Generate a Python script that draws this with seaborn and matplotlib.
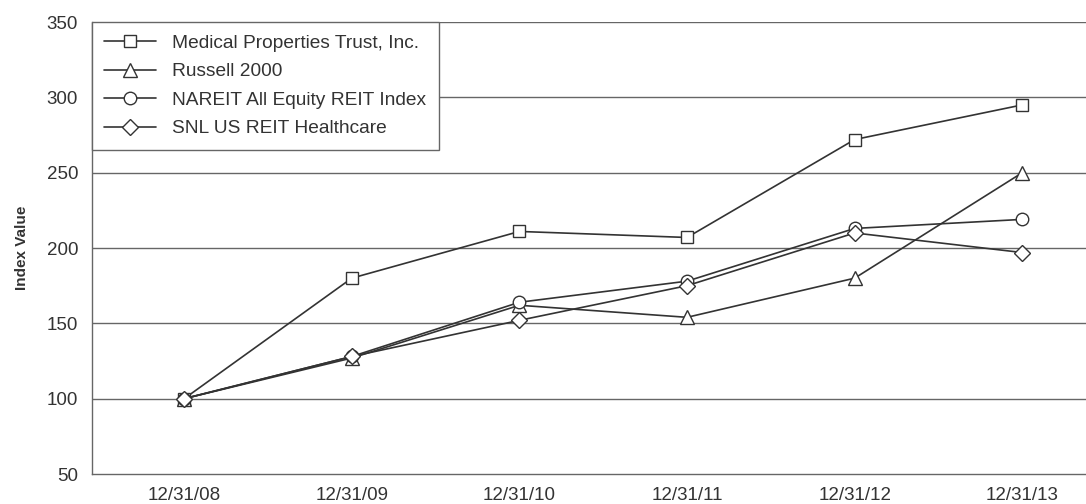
import numpy as np
import pandas as pd
import matplotlib
matplotlib.use("Agg")
import matplotlib.pyplot as plt
import seaborn as sns

# -------------------------------------------------------
# Data
# -------------------------------------------------------

dates = ["12/31/08", "12/31/09", "12/31/10", "12/31/11", "12/31/12", "12/31/13"]

mpt = [100, 180, 211, 207, 272, 295]
russell = [100, 127, 162, 154, 180, 250]
nareit = [100, 128, 164, 178, 213, 219]
snl = [100, 128, 152, 175, 210, 197]

series_names = [
    "Medical Properties Trust, Inc.",
    "Russell 2000",
    "NAREIT All Equity REIT Index",
    "SNL US REIT Healthcare",
]
series_values = [mpt, russell, nareit, snl]
series_markers = ["s", "^", "o", "D"]
marker_sizes = [9, 9.5, 9, 8]

y_ticks = [50, 100, 150, 200, 250, 300, 350]

# -------------------------------------------------------
# Long-form table
# -------------------------------------------------------

rows = []
for name, values in zip(series_names, series_values):
    for i, (d, v) in enumerate(zip(dates, values)):
        rows.append({"Series": name, "pos": i, "Date": d, "Value": v})
data = pd.DataFrame(rows)

# -------------------------------------------------------
# Plot
# -------------------------------------------------------

sns.set_style("white")
plt.rcParams["font.family"] = ["Liberation Sans", "DejaVu Sans"]

ink = "#333333"
grid_color = "#666666"

fig = plt.figure(figsize=(10.86, 5.04), dpi=100)
ax = fig.add_axes([0.0847, 0.0595, 0.9153, 0.8968])

for name, marker, ms in zip(series_names, series_markers, marker_sizes):
    subset = data[data["Series"] == name]
    sns.lineplot(
        data=subset,
        x="pos",
        y="Value",
        ax=ax,
        color=ink,
        linewidth=1.2,
        marker=marker,
        markersize=ms,
        markerfacecolor="white",
        markeredgecolor=ink,
        markeredgewidth=1.0,
        label=name,
        zorder=3,
    )

ax.set_xlim(-0.55, 5.38)
ax.set_ylim(50, 350)
ax.set_xticks(range(len(dates)))
ax.set_xticklabels(dates)
ax.set_yticks(y_ticks)

for y in y_ticks[1:]:
    ax.axhline(y, color=grid_color, linewidth=1.0, zorder=1)

ax.set_xlabel("")
ax.set_ylabel("Index Value", fontsize=11, fontweight="bold", color=ink, labelpad=13)

ax.tick_params(axis="x", direction="out", length=6, width=1, colors=grid_color,
               labelcolor=ink, labelsize=13.5, pad=3)
ax.tick_params(axis="y", length=0, labelcolor=ink, labelsize=13.5, pad=10)

for side in ["top", "right"]:
    ax.spines[side].set_visible(False)
for side in ["left", "bottom"]:
    ax.spines[side].set_color(grid_color)
    ax.spines[side].set_linewidth(1.0)

leg = ax.legend(
    loc="upper left",
    bbox_to_anchor=(0, 1),
    borderaxespad=0,
    frameon=True,
    fancybox=False,
    fontsize=13.8,
    handlelength=2.7,
    handletextpad=0.85,
    borderpad=0.65,
    labelspacing=0.58,
    labelcolor=ink,
)
leg.get_frame().set_edgecolor(grid_color)
leg.get_frame().set_linewidth(1.0)
leg.get_frame().set_alpha(1)
leg.set_zorder(5)

fig.savefig("out.png", dpi=100)
